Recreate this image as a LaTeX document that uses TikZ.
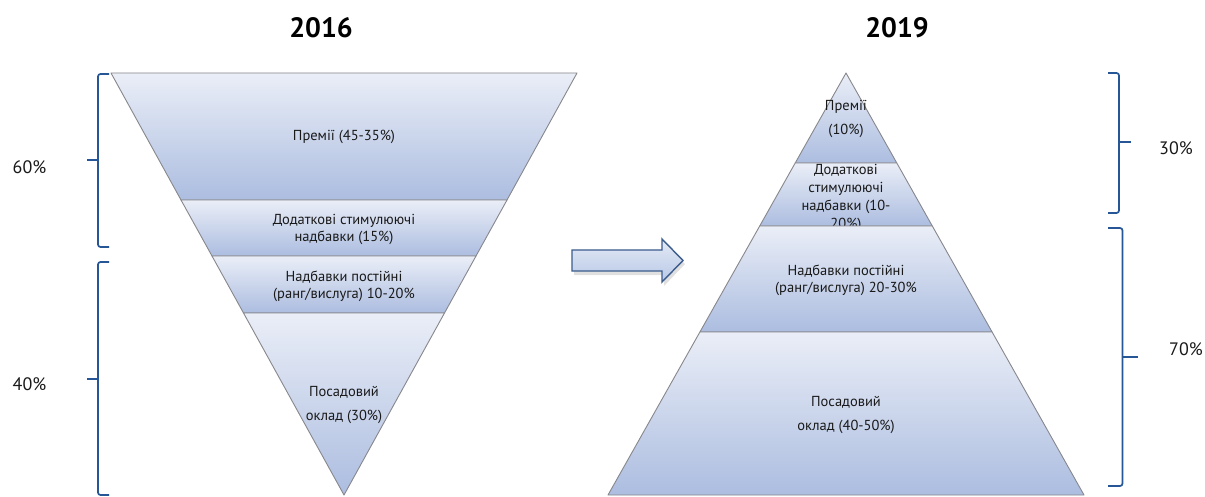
\documentclass[tikz,border=0pt]{standalone}
\usepackage{fontspec}
\setmainfont{PT Sans}
\definecolor{bandtop}{RGB}{234,238,247}
\definecolor{bandbot}{RGB}{172,189,224}
\definecolor{edgegray}{RGB}{135,135,140}
\definecolor{bracecol}{RGB}{38,86,150}
\definecolor{arrowedge}{RGB}{60,92,140}
\definecolor{arrowtop}{RGB}{228,234,246}
\definecolor{arrowbot}{RGB}{184,200,230}
\begin{document}
\begin{tikzpicture}[x=1pt,y=-1pt,
  band/.style={top color=bandtop,bottom color=bandbot,draw=edgegray,line width=0.9pt,line join=round},
  lbl/.style={align=center,font=\fontsize{14.5}{17}\selectfont,inner sep=0pt,text=black!90},
  pct/.style={font=\fontsize{18}{20}\selectfont,inner sep=0pt,text=black!90},
  ttl/.style={font=\bfseries\fontsize{28}{30}\selectfont,inner sep=0pt},
  bracestyle/.style={draw=bracecol,line width=1.7pt,rounded corners=2.5pt}]
\useasboundingbox[fill=white] (0,0) rectangle (1205,497);

% titles
\node[ttl] (t2016) at (321,28) {2016};
\node[ttl] (t2019) at (897,28) {2019};

% left inverted pyramid
\shade[band] (111,73) -- (577,73) -- (507,200) -- (181,200) -- cycle;
\node[lbl] (l1) at (344,137) {Премії (45-35\%)};
\shade[band] (181,200) -- (507,200) -- (476,256) -- (212,256) -- cycle;
\node[lbl] (l2) at (344,229) {Додаткові стимулюючі\\надбавки (15\%)};
\shade[band] (212,256) -- (476,256) -- (444.5,313) -- (243.5,313) -- cycle;
\node[lbl] (l3) at (344,286) {Надбавки постійні\\(ранг/вислуга) 10-20\%};
\shade[band] (243.5,313) -- (444.5,313) -- (344,495) -- cycle;
\node[lbl] (l4) at (344,405) {Посадовий\\[7pt]оклад (30\%)};

% left braces
\draw[bracestyle] (109,74) -- (98,74) -- (98,160) -- (98,247) -- (109,247);
\draw[bracestyle,rounded corners=0pt] (98,160) -- (87,160);
\draw[bracestyle] (109,262) -- (98,262) -- (98,379) -- (98,495) -- (109,495);
\draw[bracestyle,rounded corners=0pt] (98,379) -- (87,379);
\node[pct] (p60) at (29.5,167) {60\%};
\node[pct] (p40) at (29.5,384) {40\%};

% block arrow
\fill[black,opacity=0.12] (574,254) -- (664,254) -- (664,244) -- (685,264) -- (664,286) -- (664,275) -- (574,275) -- cycle;
\shade[top color=arrowtop,bottom color=arrowbot,draw=arrowedge,line width=1.4pt,line join=miter]
  (572,250) -- (662,250) -- (662,239) -- (683,260.5) -- (662,282) -- (662,271) -- (572,271) -- cycle;

% right pyramid
\shade[band] (846,73) -- (896.8,163) -- (795.2,163) -- cycle;
\node[lbl] (r1) at (846,119) {Премії\\[7pt](10\%)};
\shade[band] (795.2,163) -- (896.8,163) -- (932.3,226) -- (759.7,226) -- cycle;
\node[lbl,font=\fontsize{14.5}{18}\selectfont] (r2) at (846,198) {Додаткові\\стимулюючі\\надбавки (10-\\20\%)};
\shade[band] (759.7,226) -- (932.3,226) -- (992.1,332) -- (699.9,332) -- cycle;
\node[lbl] (r3) at (846,280) {Надбавки постійні\\(ранг/вислуга) 20-30\%};
\shade[band] (699.9,332) -- (992.1,332) -- (1084,495) -- (608,495) -- cycle;
\node[lbl] (r4) at (846,415) {Посадовий\\[7pt]оклад (40-50\%)};

% right braces
\draw[bracestyle] (1108,73) -- (1119,73) -- (1119,142) -- (1119,213) -- (1108,213);
\draw[bracestyle,rounded corners=0pt] (1119,142) -- (1131,142);
\draw[bracestyle] (1108,228) -- (1122.5,228) -- (1122.5,357) -- (1122.5,486) -- (1108,486);
\draw[bracestyle,rounded corners=0pt] (1122.5,357) -- (1138,357);
\node[pct] (p30) at (1176,148) {30\%};
\node[pct] (p70) at (1186,349) {70\%};
\end{tikzpicture}
\end{document}
